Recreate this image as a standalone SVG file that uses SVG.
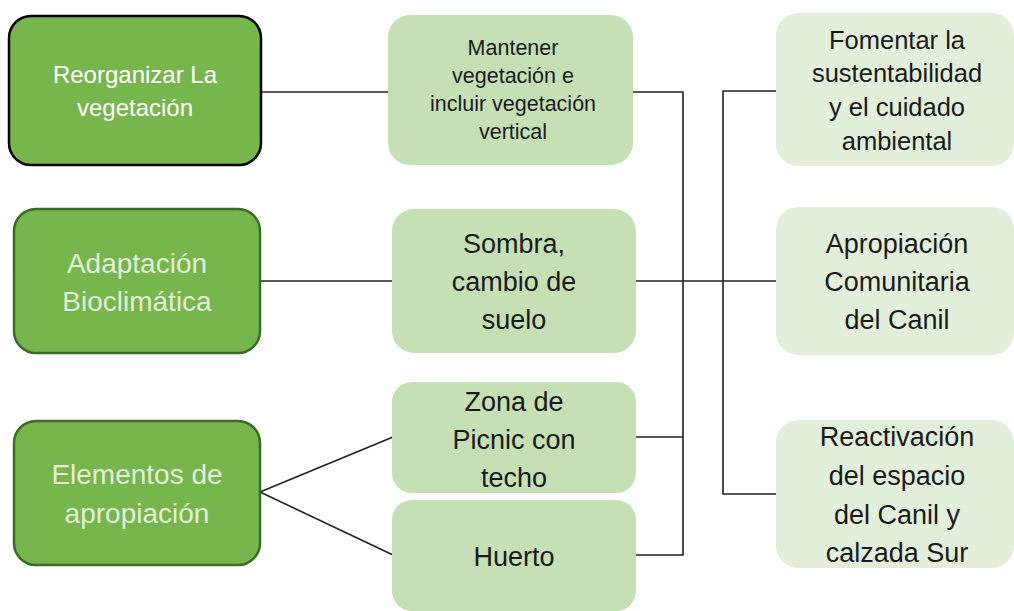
<svg xmlns="http://www.w3.org/2000/svg" width="1014" height="611" viewBox="0 0 1014 611">
<style>
.dk{fill:#77b64c;stroke:#3b6a29;stroke-width:2.5}
.mid{fill:#c5e0b4}
.lt{fill:#e2efda}
text{font-family:"Liberation Sans",Arial,sans-serif;text-anchor:middle}
.w{fill:#ffffff;font-size:24px}
.wl{fill:#e2efd9;font-size:28px}
.d{fill:#1a1a1a}
.cn{fill:none;stroke:#222;stroke-width:1.6}
</style>
<rect width="1014" height="611" fill="#fff"/>
<g id="connectors">
<line class="cn" x1="261" y1="92" x2="389" y2="92"/>
<line class="cn" x1="260" y1="281" x2="393" y2="281"/>
<line class="cn" x1="260" y1="492" x2="393" y2="437"/>
<line class="cn" x1="260" y1="492" x2="393" y2="555"/>
<polyline class="cn" points="633,92 683,92 683,555 636,555"/>
<line class="cn" x1="636" y1="437" x2="683" y2="437"/>
<line class="cn" x1="636" y1="281" x2="776" y2="281"/>
<polyline class="cn" points="776,91 723,91 723,494 776,494"/>
</g>
<g id="n1"><rect class="dk" x="9" y="16" width="252" height="149" rx="22" style="stroke:#000"/>
<text class="w" x="135" y="83">Reorganizar La</text><text class="w" x="135" y="116">vegetación</text></g>
<g id="n2"><rect class="dk" x="14" y="209" width="246" height="144" rx="22"/>
<text class="wl" x="137" y="273">Adaptación</text><text class="wl" x="137" y="311">Bioclimática</text></g>
<g id="n3"><rect class="dk" x="14" y="421" width="246" height="144" rx="22"/>
<text class="wl" x="137" y="484">Elementos de</text><text class="wl" x="137" y="523">apropiación</text></g>
<g id="n4"><rect class="mid" x="388" y="15" width="245" height="150" rx="22"/>
<g class="d" style="font-size:21.5px"><text x="513" y="55">Mantener</text><text x="513" y="83">vegetación e</text><text x="513" y="111">incluir vegetación</text><text x="513" y="139">vertical</text></g></g>
<g id="n5"><rect class="mid" x="392" y="209" width="244" height="144" rx="22"/>
<g class="d" style="font-size:27px"><text x="514" y="253">Sombra,</text><text x="514" y="291">cambio de</text><text x="514" y="329">suelo</text></g></g>
<g id="n6"><rect class="mid" x="392" y="382" width="244" height="111" rx="20"/>
<g class="d" style="font-size:27px"><text x="514" y="411">Zona de</text><text x="514" y="449">Picnic con</text><text x="514" y="487">techo</text></g></g>
<g id="n7"><rect class="mid" x="392" y="500" width="244" height="111" rx="20"/>
<g class="d" style="font-size:27px"><text x="514" y="566">Huerto</text></g></g>
<g id="n8"><rect class="lt" x="776" y="13" width="238" height="153" rx="22"/>
<g class="d" style="font-size:25.5px"><text x="897" y="49">Fomentar la</text><text x="897" y="82">sustentabilidad</text><text x="897" y="116">y el cuidado</text><text x="897" y="150">ambiental</text></g></g>
<g id="n9"><rect class="lt" x="776" y="207" width="238" height="148" rx="22"/>
<g class="d" style="font-size:27px"><text x="897" y="253">Apropiación</text><text x="897" y="291">Comunitaria</text><text x="897" y="329">del Canil</text></g></g>
<g id="n10"><rect class="lt" x="776" y="420" width="238" height="148" rx="22"/>
<g class="d" style="font-size:27px"><text x="897" y="446">Reactivación</text><text x="897" y="485">del espacio</text><text x="897" y="524">del Canil y</text><text x="897" y="562">calzada Sur</text></g></g>
</svg>
